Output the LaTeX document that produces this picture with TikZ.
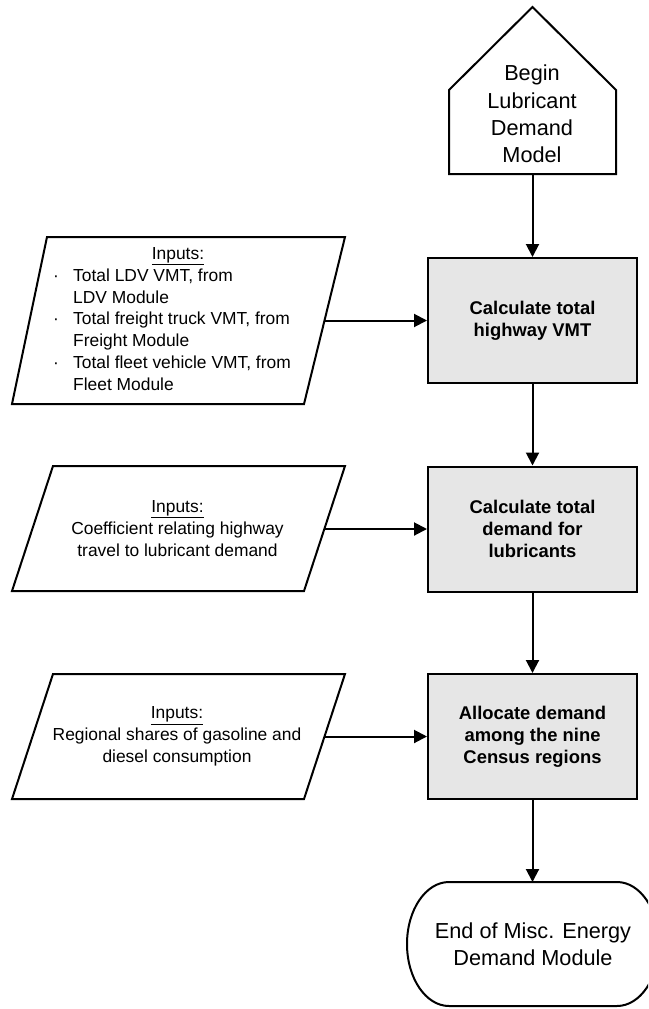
\documentclass[tikz,border=0pt]{standalone}
\usepackage{fontspec}
\setmainfont{Liberation Sans}
\usetikzlibrary{arrows.meta}
\definecolor{boxgray}{HTML}{E6E6E6}
\begin{document}
\begin{tikzpicture}[x=1pt,y=-1pt,line width=2pt,
  proc/.style={draw, fill=boxgray, minimum width=209pt, minimum height=125pt, align=center,
    font=\fontsize{18.4}{22}\selectfont\bfseries, inner sep=0pt},
  intext/.style={align=center, font=\fontsize{17.4}{21.8}\selectfont, inner sep=0pt},
  termtext/.style={align=center, font=\fontsize{21.7}{27.4}\selectfont, inner sep=0pt},
  arr/.style={-{Triangle[length=13pt,width=13pt]}},
  shapeline/.style={draw, fill=white}]
\useasboundingbox (0,0) rectangle (648,1009);
\clip (0,0) rectangle (648,1009);

% begin pentagon
\draw[shapeline] (532.5,7) -- (616,90) -- (616,174) -- (449,174) -- (449,90) -- cycle;
\node[termtext] (begin) at (532,114) {Begin\\Lubricant\\Demand\\Model};
\coordinate (beginb) at (532.5,174);

% process boxes
\node[proc] (b1) at (532.5,320.5) {Calculate total\\highway VMT};
\node[proc] (b2) at (532.5,529) {Calculate total\\demand for\\lubricants};
\node[proc] (b3) at (532.5,736.5) {Allocate demand\\among the nine\\Census regions};

% input parallelograms
\draw[shapeline] (47,237) -- (345,237) -- (304,404) -- (12,404) -- cycle;
\node[intext] (p1) at (172,320.5) {%
\begin{tabular}{@{}l@{}l@{}}
\multicolumn{2}{@{}c@{}}{\hspace*{12pt}\underline{Inputs:}}\\
\makebox[20pt][l]{·} & Total LDV VMT, from\\
 & LDV Module\\
\makebox[20pt][l]{·} & Total freight truck VMT, from\\
 & Freight Module\\
\makebox[20pt][l]{·} & Total fleet vehicle VMT, from\\
 & Fleet Module
\end{tabular}};
\coordinate (p1e) at (324.5,320.5);

\draw[shapeline] (53,466) -- (345,466) -- (304,591) -- (12,591) -- cycle;
\node[intext] (p2) at (177.5,528.5) {\underline{Inputs:}\\Coefficient relating highway\\travel to lubricant demand};
\coordinate (p2e) at (324.5,529);

\draw[shapeline] (53,674) -- (345,674) -- (304,799) -- (12,799) -- cycle;
\node[intext] (p3) at (177,736.5) {\underline{Inputs:}\\Regional shares of gasoline and\\diesel consumption};
\coordinate (p3e) at (324.5,736.5);

% end terminal
\draw[shapeline] (449,882) -- (617,882)
  .. controls (640.2,882) and (659,909.8) .. (659,944)
  .. controls (659,978.2) and (640.2,1006) .. (617,1006)
  -- (449,1006)
  .. controls (425.8,1006) and (407,978.2) .. (407,944)
  .. controls (407,909.8) and (425.8,882) .. (449,882) -- cycle;
\node[termtext] (end) at (533,944) {End of Misc. Energy\\Demand Module};
\coordinate (endt) at (532.5,882);

% connectors
\draw[arr] (beginb) -- (b1.north);
\draw[arr] (b1.south) -- (b2.north);
\draw[arr] (b2.south) -- (b3.north);
\draw[arr] (b3.south) -- (endt);
\draw[arr] (p1e) -- (b1.west);
\draw[arr] (p2e) -- (b2.west);
\draw[arr] (p3e) -- (b3.west);
\end{tikzpicture}
\end{document}
